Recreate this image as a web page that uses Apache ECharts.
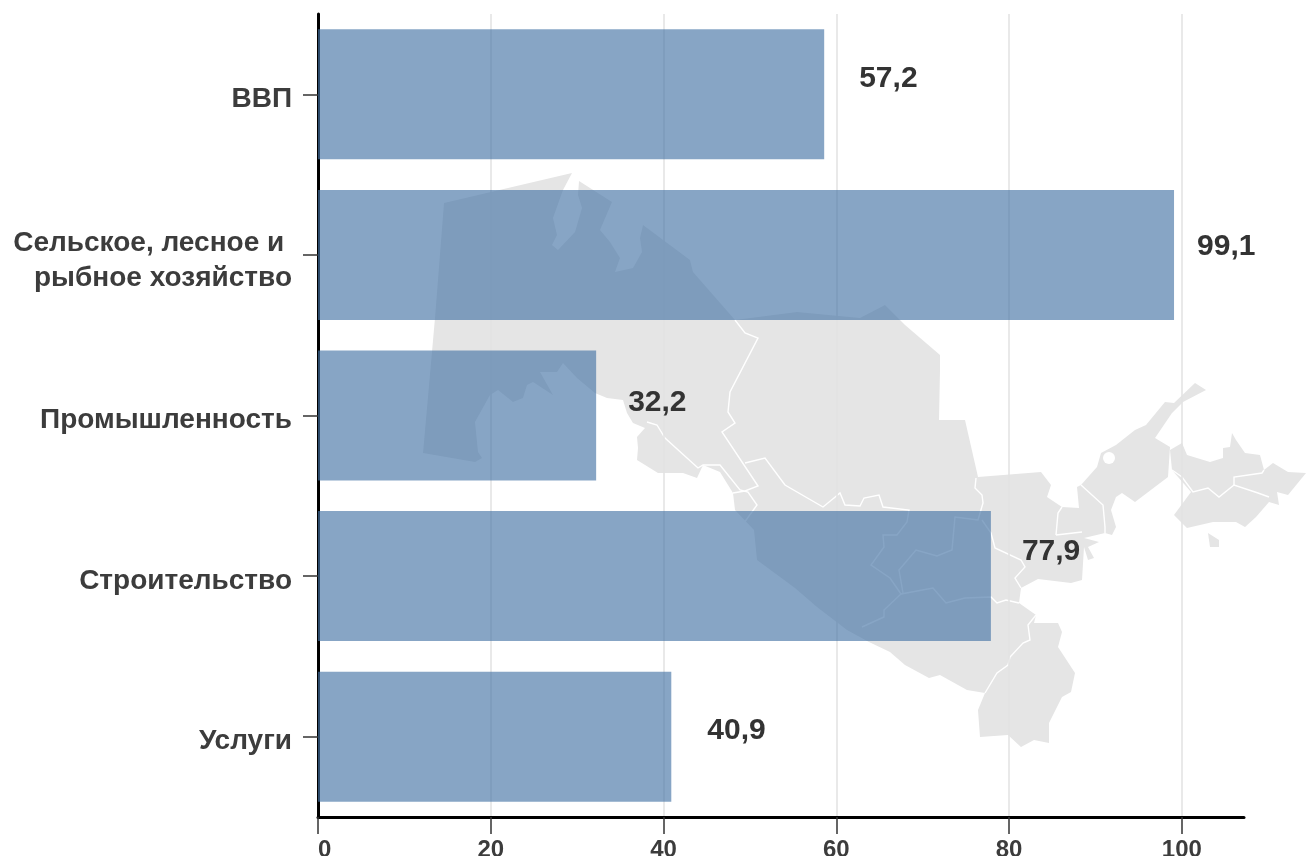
<!DOCTYPE html>
<html><head><meta charset="utf-8">
<style>html,body{margin:0;padding:0;background:#fff}#c{width:1306px;height:856px}</style>
<script src="https://cdn.jsdelivr.net/npm/echarts@6/dist/echarts.min.js"></script>
</head><body><div id="c"></div>
<script>
const categories = ['ВВП', 'Сельское, лесное и \nрыбное хозяйство', 'Промышленность', 'Строительство', 'Услуги'];
const barValues = [58.6, 99.1, 32.2, 77.9, 40.9];
const valueLabels = ['57,2', '99,1', '32,2', '77,9', '40,9'];
const xTicks = [0, 20, 40, 60, 80, 100];
const labelNudge = [[35, -16], [23, -8], [32, -13], [31, -24], [36, -6]];

// Decorative backdrop map (not data), traced in page pixels
const mapMain = [[444,203],[572,173],[563,190],[553,218],[557,235],[552,245],[558,250],[575,232],[582,208],[578,195],[579,181],[612,202],[600,230],[610,242],[620,258],[615,272],[633,268],[642,252],[640,238],[643,225],[690,260],[693,272],[735,320],[797,312],[860,318],[885,305],[905,325],[940,355],[940,370],[939,420],[965,420],[978,477],[1041,472],[1051,485],[1047,497],[1062,507],[1079,508],[1077,487],[1081,485],[1097,467],[1101,453],[1116,445],[1135,430],[1146,425],[1165,402],[1174,403],[1195,383],[1206,390],[1183,402],[1172,413],[1155,438],[1170,447],[1168,477],[1135,502],[1122,493],[1116,497],[1111,510],[1116,527],[1112,535],[1105,533],[1084,538],[1099,542],[1088,547],[1094,558],[1088,560],[1084,547],[1082,580],[1071,583],[1038,579],[1021,588],[1019,603],[1036,615],[1034,623],[1058,623],[1062,632],[1058,647],[1075,673],[1071,692],[1062,697],[1049,723],[1049,743],[1034,740],[1021,747],[1008,735],[980,737],[978,710],[985,693],[967,690],[940,675],[929,678],[905,665],[890,652],[869,642],[847,630],[817,607],[795,588],[757,560],[754,530],[735,510],[733,493],[720,472],[703,465],[697,478],[683,473],[658,473],[637,460],[638,448],[637,437],[645,428],[633,423],[627,413],[623,400],[607,398],[595,393],[577,378],[563,363],[557,372],[540,372],[553,395],[533,382],[527,385],[523,398],[513,402],[498,390],[490,395],[475,422],[478,452],[482,458],[475,462],[423,453],[435,318]];
const mapIsland = [[1170,450],[1182,443],[1187,455],[1210,462],[1223,458],[1223,448],[1230,447],[1232,433],[1236,440],[1245,453],[1260,455],[1264,470],[1273,463],[1288,472],[1306,473],[1288,495],[1277,492],[1279,505],[1269,502],[1256,517],[1245,527],[1236,522],[1213,522],[1187,528],[1174,515],[1191,492],[1172,470]];
const mapIslet = [[1208,533],[1219,540],[1219,547],[1210,547]];
const mapBorders = [
  [[735,320],[745,333],[758,338],[730,392],[728,412],[735,423],[722,432],[758,486],[745,491],[733,493]],
  [[745,463],[765,458],[785,485],[823,507],[834,498],[840,493],[845,505],[860,506],[864,498],[879,495],[883,507],[909,510],[907,522],[897,535],[883,535],[884,547],[871,565],[890,578],[901,594],[884,610],[884,617],[862,627]],
  [[901,594],[933,588],[946,603],[965,598],[991,597],[997,603],[1006,600],[1019,603]],
  [[903,593],[899,570],[916,550],[937,556],[952,550],[955,517],[978,520],[983,503],[982,495],[975,488],[976,478]],
  [[982,520],[991,533],[995,548],[1021,560],[1025,567],[1015,578],[1021,588]],
  [[1056,535],[1058,513],[1062,507]],
  [[1056,535],[1082,532]],
  [[1081,485],[1103,505],[1105,527],[1105,533]],
  [[1036,615],[1028,625],[1030,640],[1023,643],[1010,657],[1008,665],[997,673],[985,693]],
  [[1172,470],[1182,477],[1193,492],[1208,488],[1219,497],[1234,485],[1258,493],[1269,497]],
  [[1234,485],[1234,477],[1262,473],[1264,470]],
  [[647,422],[657,425],[665,438],[687,458],[698,468],[703,465],[720,465],[740,490],[748,492],[757,505],[744,523]]
];
const mapFill = '#e5e5e5';
const graphic = [mapMain, mapIsland, mapIslet].map(points => ({
  type: 'polygon', silent: true, z: -10, shape: {points}, style: {fill: mapFill}
})).concat(mapBorders.map(points => ({
  type: 'polyline', silent: true, z: -9, shape: {points}, style: {stroke: '#fff', lineWidth: 1.4, fill: null}
}))).concat([{type: 'circle', silent: true, z: -9, shape: {cx: 1109, cy: 458, r: 6}, style: {fill: '#fff'}}]);

const textColor = '#3c3c3c';
const catText = {fontFamily: 'Liberation Sans', fontWeight: 'bold', fontSize: 28, lineHeight: 34, color: textColor};
const chart = echarts.init(document.getElementById('c'), null, {renderer: 'canvas'});
chart.setOption({
  animation: false,
  backgroundColor: '#fff',
  graphic,
  grid: {left: 318, right: 62, top: 14, bottom: 39, containLabel: false, outerBoundsMode: 'none'},
  xAxis: {
    type: 'value', min: 0, max: 107.2,
    axisLine: {show: true, lineStyle: {color: '#000', width: 3}},
    axisTick: {show: true, length: 17, customValues: xTicks, lineStyle: {color: '#333', width: 1.5}},
    axisLabel: {customValues: xTicks, alignMinLabel: 'left', margin: 21, fontFamily: 'Liberation Sans', fontWeight: 'bold', fontSize: 24, color: textColor},
    splitLine: {show: true, lineStyle: {color: '#e2e2e2', width: 1.5}}
  },
  yAxis: {
    type: 'category', inverse: true, data: categories,
    axisLine: {show: true, lineStyle: {color: '#000', width: 3}},
    axisTick: {show: true, alignWithLabel: true, length: 15, lineStyle: {color: '#333', width: 1.5}},
    axisLabel: {
      margin: 26, align: 'right', ...catText,
      formatter: v => v.split('\n').map((s, i) => (i === 0 ? '{first|' : '{rest|') + s + '}').join('\n'),
      rich: {first: {...catText, padding: [10, 0, 0, 0]}, rest: {...catText, padding: [12, 0, 0, 0]}}
    }
  },
  series: [{
    type: 'bar', barWidth: 130,
    itemStyle: {color: 'rgba(70,117,166,0.65)'},
    data: barValues.map((value, i) => ({
      value,
      label: {
        show: true, position: 'right', distance: 0, offset: labelNudge[i],
        formatter: valueLabels[i],
        fontFamily: 'Liberation Sans', fontWeight: 'bold', fontSize: 30, color: '#333'
      }
    }))
  }]
});
</script></body></html>
